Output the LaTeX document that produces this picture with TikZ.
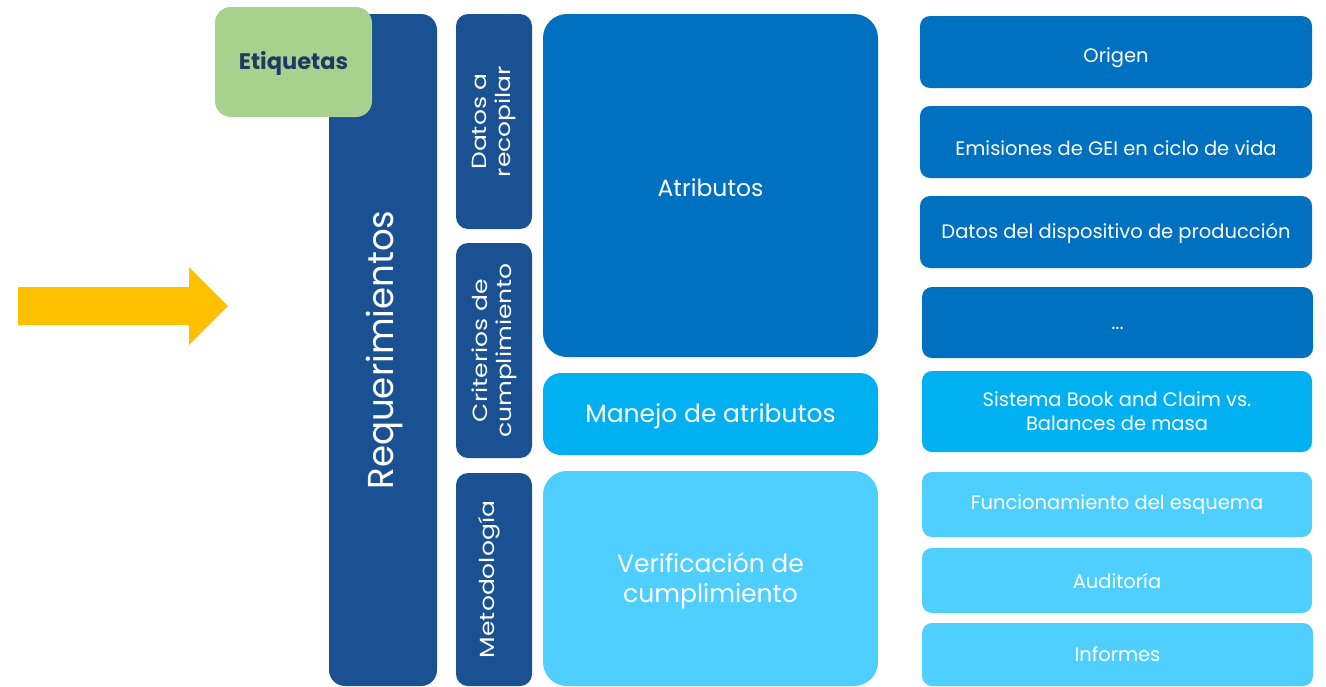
\documentclass[tikz,border=0pt]{standalone}
\usepackage{fontspec}
\setmainfont{Poppins}
\definecolor{navy}{HTML}{1A5193}
\definecolor{midblue}{HTML}{0070C0}
\definecolor{cyanb}{HTML}{00B0F0}
\definecolor{lightb}{HTML}{4FCFFF}
\definecolor{green1}{HTML}{A9D18E}
\definecolor{txtdark}{HTML}{1F3864}
\definecolor{arrowy}{HTML}{FFC000}
\newcommand{\rbox}[7]{\node[#1,minimum width={#4-#2},minimum height={#5-#3}] (#6) at ({(#2+#4)/2},{(#3+#5)/2}) {#7};}
\newcommand{\dn}[1]{\rule{0pt}{#1}}
\begin{document}
\begin{tikzpicture}[x=1pt,y=-1pt,
  base/.style={rectangle,inner sep=0pt,text=white,align=center,font=\fontsize{19.5}{24}\selectfont},
  navybox/.style={base,fill=navy,rounded corners=12pt},
  midbox/.style={base,fill=midblue,rounded corners=10pt},
  cyanbox/.style={base,fill=cyanb,rounded corners=10pt},
  lightbox/.style={base,fill=lightb,rounded corners=10pt},
  bigr/.style={rounded corners=24pt},
  vtext/.style={rotate=90,xscale=1.22,text=white,align=center,inner sep=0pt,font=\fontsize{20.5}{24}\selectfont}]
\useasboundingbox (0,0) rectangle (1326,686);
% arrow
\fill[arrowy] (18,287) -- (189,287) -- (189,267) -- (228,306) -- (189,345) -- (189,325) -- (18,325) -- cycle;
% left column
\rbox{navybox,rounded corners=16pt}{329}{14}{437}{686}{req}{}
\node[vtext,xscale=0.81,font=\fontsize{36}{40}\selectfont] (reqt) at ([xshift=1pt]req.center) {Requerimientos};
\rbox{base,fill=green1,rounded corners=16pt,text=txtdark,font=\fontsize{22.5}{26}\selectfont\bfseries}{215}{7}{372}{117}{etiq}{\dn{20pt}Etiquetas}
\rbox{navybox}{456}{14}{532}{229}{datos}{}
\node[vtext] (datost) at (datos.center) {Datos a\\recopilar};
\rbox{navybox}{456}{243}{532}{458}{crit}{}
\node[vtext] (critt) at (crit.center) {Criterios de\\cumplimiento};
\rbox{navybox}{456}{473}{532}{686}{metod}{}
\node[vtext] (metodt) at ([xshift=-5pt]metod.center) {Metodología};
% middle column
\rbox{midbox,bigr,font=\fontsize{23.5}{28}\selectfont}{543}{14}{878}{357}{atrib}{\dn{22pt}Atributos}
\rbox{cyanbox,rounded corners=18pt,font=\fontsize{25}{29}\selectfont}{543}{373}{878}{455}{manejo}{\dn{24pt}Manejo de atributos}
\rbox{lightbox,bigr,font=\fontsize{25}{30}\selectfont}{543}{471}{878}{686}{verif}{\dn{24pt}Verificación de\\cumplimiento}
% right column
\rbox{midbox}{920}{16}{1312}{88}{origen}{\dn{26pt}Origen}
\rbox{midbox}{920}{106}{1312}{178}{emis}{\dn{27pt}Emisiones de GEI en ciclo de vida}
\rbox{midbox}{920}{196}{1312}{268}{disp}{\dn{18pt}Datos del dispositivo de producción}
\rbox{midbox}{922}{287}{1313}{358}{dots}{\dn{14pt}...}
\rbox{cyanbox}{922}{371}{1312}{452}{sist}{Sistema Book and Claim vs.\\Balances de masa}
\rbox{lightbox}{922}{472}{1312}{537}{func}{Funcionamiento del esquema}
\rbox{lightbox}{922}{548}{1312}{613}{audit}{Auditoría}
\rbox{lightbox}{922}{623}{1313}{686}{inform}{Informes}
\end{tikzpicture}
\end{document}
